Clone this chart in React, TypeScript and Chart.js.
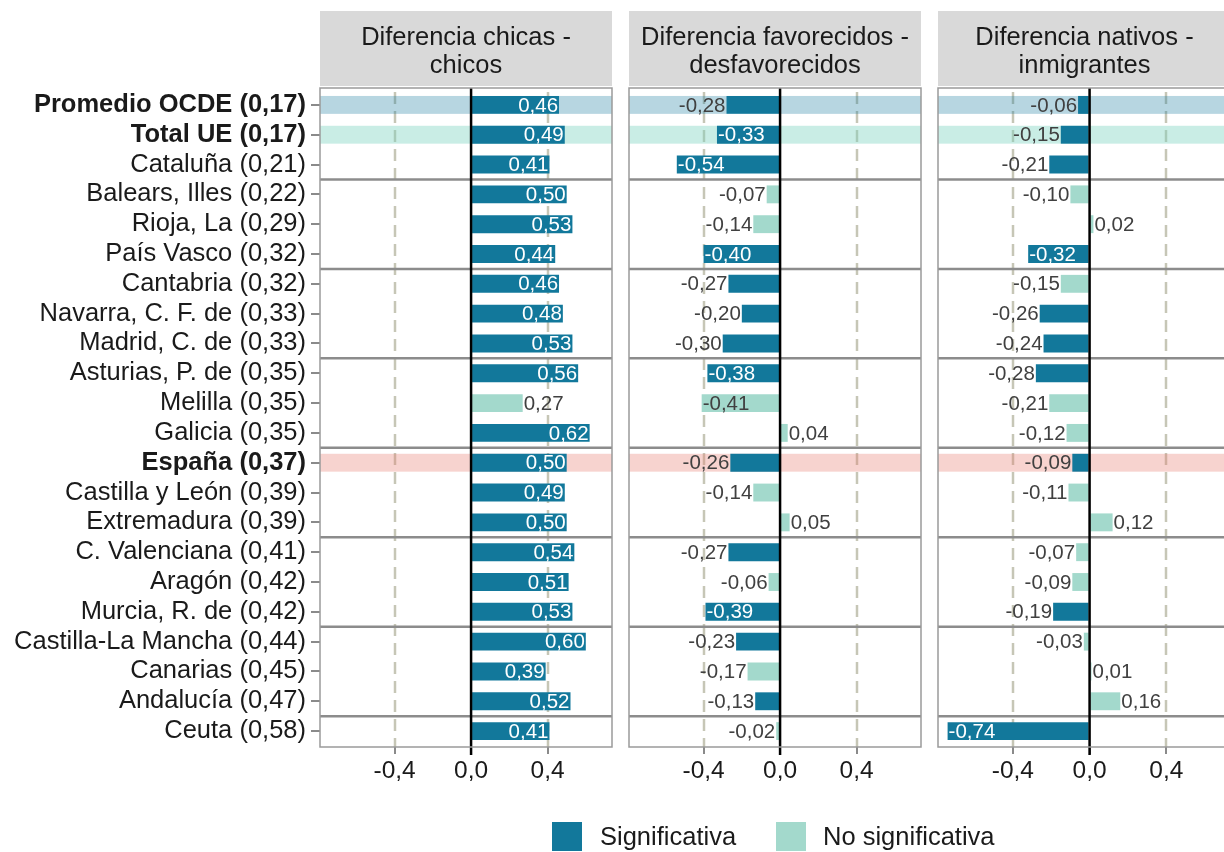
import React, { useEffect, useRef } from "react";
import { Chart, registerables } from "chart.js";

Chart.register(...registerables);

// ---------------- Data ----------------
const categories = [
  "Promedio OCDE (0,17)",
  "Total UE (0,17)",
  "Cataluña (0,21)",
  "Balears, Illes (0,22)",
  "Rioja, La (0,29)",
  "País Vasco (0,32)",
  "Cantabria (0,32)",
  "Navarra, C. F. de (0,33)",
  "Madrid, C. de (0,33)",
  "Asturias, P. de (0,35)",
  "Melilla (0,35)",
  "Galicia (0,35)",
  "España (0,37)",
  "Castilla y León (0,39)",
  "Extremadura (0,39)",
  "C. Valenciana (0,41)",
  "Aragón (0,42)",
  "Murcia, R. de (0,42)",
  "Castilla-La Mancha (0,44)",
  "Canarias (0,45)",
  "Andalucía (0,47)",
  "Ceuta (0,58)",
];

const boldCategories = ["Promedio OCDE (0,17)", "Total UE (0,17)", "España (0,37)"];

const chicasValues = [0.46, 0.49, 0.41, 0.5, 0.53, 0.44, 0.46, 0.48, 0.53, 0.56, 0.27, 0.62, 0.5, 0.49, 0.5, 0.54, 0.51, 0.53, 0.6, 0.39, 0.52, 0.41];
const chicasSignificant = [true, true, true, true, true, true, true, true, true, true, false, true, true, true, true, true, true, true, true, true, true, true];

const favorecidosValues = [-0.28, -0.33, -0.54, -0.07, -0.14, -0.4, -0.27, -0.2, -0.3, -0.38, -0.41, 0.04, -0.26, -0.14, 0.05, -0.27, -0.06, -0.39, -0.23, -0.17, -0.13, -0.02];
const favorecidosSignificant = [true, true, true, false, false, true, true, true, true, true, false, false, true, false, false, true, false, true, true, false, true, false];

const nativosValues = [-0.06, -0.15, -0.21, -0.1, 0.02, -0.32, -0.15, -0.26, -0.24, -0.28, -0.21, -0.12, -0.09, -0.11, 0.12, -0.07, -0.09, -0.19, -0.03, 0.01, 0.16, -0.74];
const nativosSignificant = [true, true, true, false, false, true, false, true, true, true, false, false, true, false, false, false, false, true, false, false, false, true];

const panelTitles = [
  ["Diferencia chicas -", "chicos"],
  ["Diferencia favorecidos -", "desfavorecidos"],
  ["Diferencia nativos -", "inmigrantes"],
];

const legendLabels = ["Significativa", "No significativa"];
const xTickValues = [-0.4, 0, 0.4];
const dashedGridValues = [-0.4, 0.4];
const separatorsAfterIndex = [2, 5, 8, 11, 14, 17, 20];

// ---------------- Styles ----------------
const SIG_COLOR = "#12789b";
const NONSIG_COLOR = "#a3d9cc";
const FONT = "'Liberation Sans', Arial, Helvetica, sans-serif";
const TEXT_COLOR = "#1a1a1a";
const LABEL_DARK = "#404040";
const highlightColors: Record<number, string> = {
  0: "rgba(18,120,155,0.30)",
  1: "rgba(120,210,190,0.40)",
  12: "rgba(230,120,110,0.33)",
};

const X_MIN = -0.79;
const X_MAX = 0.737;

const fmt1 = (v: number) => v.toFixed(1).replace(".", ",");
const fmt2 = (v: number) => v.toFixed(2).replace(".", ",");

type PanelDef = {
  values: number[];
  sig: boolean[];
  title: string[];
  canvasLeft: number;
  canvasWidth: number;
  padLeft: number;
  padRight: number;
  showY: boolean;
};

const panels: PanelDef[] = [
  { values: chicasValues, sig: chicasSignificant, title: panelTitles[0], canvasLeft: 0, canvasWidth: 620, padLeft: 0, padRight: 8, showY: true },
  { values: favorecidosValues, sig: favorecidosSignificant, title: panelTitles[1], canvasLeft: 620, canvasWidth: 310, padLeft: 9, padRight: 9, showY: false },
  { values: nativosValues, sig: nativosSignificant, title: panelTitles[2], canvasLeft: 929, canvasWidth: 310, padLeft: 9, padRight: 8, showY: false },
];

const PANEL_TOP = 88;
const PANEL_BOTTOM = 747;

function makePlugin(p: PanelDef, idx: number) {
  return {
    id: "panelDecor" + idx,
    beforeDraw(chart: any) {
      const { ctx, chartArea: ca } = chart;
      ctx.save();
      ctx.fillStyle = "#d9d9d9";
      ctx.fillRect(ca.left, 11, ca.right - ca.left, 75);
      ctx.fillStyle = TEXT_COLOR;
      ctx.font = `25.5px ${FONT}`;
      ctx.textAlign = "center";
      ctx.textBaseline = "alphabetic";
      const cx = (ca.left + ca.right) / 2;
      ctx.fillText(p.title[0], cx, 45);
      ctx.fillText(p.title[1], cx, 73);
      ctx.restore();
    },
    beforeDatasetsDraw(chart: any) {
      const { ctx, chartArea: ca, scales } = chart;
      const x = scales.x;
      const y = scales.y;
      ctx.save();
      ctx.strokeStyle = "#c6c6b6";
      ctx.lineWidth = 2.5;
      ctx.setLineDash([12, 7]);
      dashedGridValues.forEach((v) => {
        const px = Math.round(x.getPixelForValue(v));
        ctx.beginPath();
        ctx.moveTo(px, PANEL_TOP + 4);
        ctx.lineTo(px, PANEL_BOTTOM);
        ctx.stroke();
      });
      ctx.setLineDash([]);
      const rowH = y.getPixelForValue(1) - y.getPixelForValue(0);
      Object.keys(highlightColors).forEach((k) => {
        const i = Number(k);
        const cy = y.getPixelForValue(i);
        ctx.fillStyle = highlightColors[i];
        ctx.fillRect(ca.left, cy - rowH * 0.3, ca.right - ca.left, rowH * 0.6);
      });
      ctx.strokeStyle = "#8c8c8c";
      ctx.lineWidth = 2.5;
      separatorsAfterIndex.forEach((s) => {
        const py = (y.getPixelForValue(s) + y.getPixelForValue(s + 1)) / 2;
        ctx.beginPath();
        ctx.moveTo(ca.left, py);
        ctx.lineTo(ca.right, py);
        ctx.stroke();
      });
      ctx.restore();
    },
    afterDatasetsDraw(chart: any) {
      const { ctx, chartArea: ca, scales } = chart;
      const x = scales.x;
      ctx.save();
      const meta = chart.getDatasetMeta(0);
      ctx.font = `20.5px ${FONT}`;
      ctx.textBaseline = "middle";
      meta.data.forEach((bar: any, i: number) => {
        const v = p.values[i];
        const s = p.sig[i];
        const props = bar.getProps(["x", "y"], true);
        const inside = Math.abs(v) > 0.3;
        ctx.fillStyle = inside && s ? "#ffffff" : LABEL_DARK;
        let tx = props.x;
        if (v >= 0) {
          ctx.textAlign = inside ? "right" : "left";
          tx += inside ? -1 : 1;
        } else {
          ctx.textAlign = inside ? "left" : "right";
          tx += inside ? 1 : -1;
        }
        ctx.fillText(fmt2(v), tx, props.y + 1);
      });
      const zx = x.getPixelForValue(0);
      ctx.strokeStyle = "#000000";
      ctx.lineWidth = 2.5;
      ctx.beginPath();
      ctx.moveTo(zx, PANEL_TOP);
      ctx.lineTo(zx, PANEL_BOTTOM + 8);
      ctx.stroke();
      ctx.strokeStyle = "#9a9a9a";
      ctx.lineWidth = 1.5;
      ctx.strokeRect(ca.left, PANEL_TOP, ca.right - ca.left, PANEL_BOTTOM - PANEL_TOP);
      ctx.restore();
    },
  };
}

function Panel({ p, idx }: { p: PanelDef; idx: number }) {
  const ref = useRef<HTMLCanvasElement | null>(null);
  useEffect(() => {
    if (!ref.current) return;
    const chart = new Chart(ref.current, {
      type: "bar",
      data: {
        labels: categories,
        datasets: [
          {
            data: p.values,
            backgroundColor: p.values.map((_, i) => (p.sig[i] ? SIG_COLOR : NONSIG_COLOR)),
            barPercentage: 0.6,
            categoryPercentage: 1,
            borderWidth: 0,
          },
        ],
      },
      options: {
        indexAxis: "y",
        animation: false,
        responsive: false,
        maintainAspectRatio: false,
        devicePixelRatio: 1,
        layout: { padding: { top: 90, bottom: 66, left: p.padLeft, right: p.padRight } },
        plugins: { legend: { display: false }, tooltip: { enabled: false } },
        scales: {
          x: {
            type: "linear",
            min: X_MIN,
            max: X_MAX,
            afterBuildTicks: (s: any) => {
              s.ticks = xTickValues.map((v) => ({ value: v }));
            },
            afterFit: (s: any) => {
              s.height = 40;
            },
            ticks: {
              callback: (v: any) => fmt1(Number(v)),
              font: { family: FONT, size: 24.5 },
              color: TEXT_COLOR,
              padding: 3,
              maxRotation: 0,
              autoSkip: false,
            },
            grid: { drawOnChartArea: false, drawTicks: true, tickLength: 8, color: "#8a8a8a", lineWidth: 2 },
            border: { display: false },
          },
          y: {
            type: "category",
            display: p.showY,
            afterFit: (s: any) => {
              s.width = p.showY ? 320 : 0;
            },
            ticks: {
              font: (c: any) => ({
                family: FONT,
                size: 25.5,
                weight: boldCategories.includes(categories[c.index]) ? "bold" : "normal",
              }),
              color: TEXT_COLOR,
              padding: 5,
              autoSkip: false,
            },
            grid: { drawOnChartArea: false, drawTicks: true, tickLength: 9, color: "#8a8a8a", lineWidth: 2, offset: false },
            border: { display: false },
          },
        },
      } as any,
      plugins: [makePlugin(p, idx)],
    });
    return () => chart.destroy();
  }, [p, idx]);
  return (
    <canvas
      ref={ref}
      width={p.canvasWidth}
      height={852}
      style={{ position: "absolute", left: p.canvasLeft, top: 0, width: p.canvasWidth, height: 852 }}
    />
  );
}

export default function App() {
  return (
    <div
      style={{
        position: "absolute",
        left: 0,
        top: 0,
        width: 1224,
        height: 852,
        overflow: "hidden",
        background: "#ffffff",
        fontFamily: FONT,
      }}
    >
      {panels.map((p, i) => (
        <Panel key={i} p={p} idx={i} />
      ))}
      <div style={{ position: "absolute", left: 552, top: 822, width: 30, height: 29, background: SIG_COLOR }} />
      <div style={{ position: "absolute", left: 600, top: 821, fontSize: 25.5, lineHeight: "30px", color: TEXT_COLOR }}>
        {legendLabels[0]}
      </div>
      <div style={{ position: "absolute", left: 776, top: 822, width: 30, height: 29, background: NONSIG_COLOR }} />
      <div style={{ position: "absolute", left: 823, top: 821, fontSize: 25.5, lineHeight: "30px", color: TEXT_COLOR }}>
        {legendLabels[1]}
      </div>
    </div>
  );
}
